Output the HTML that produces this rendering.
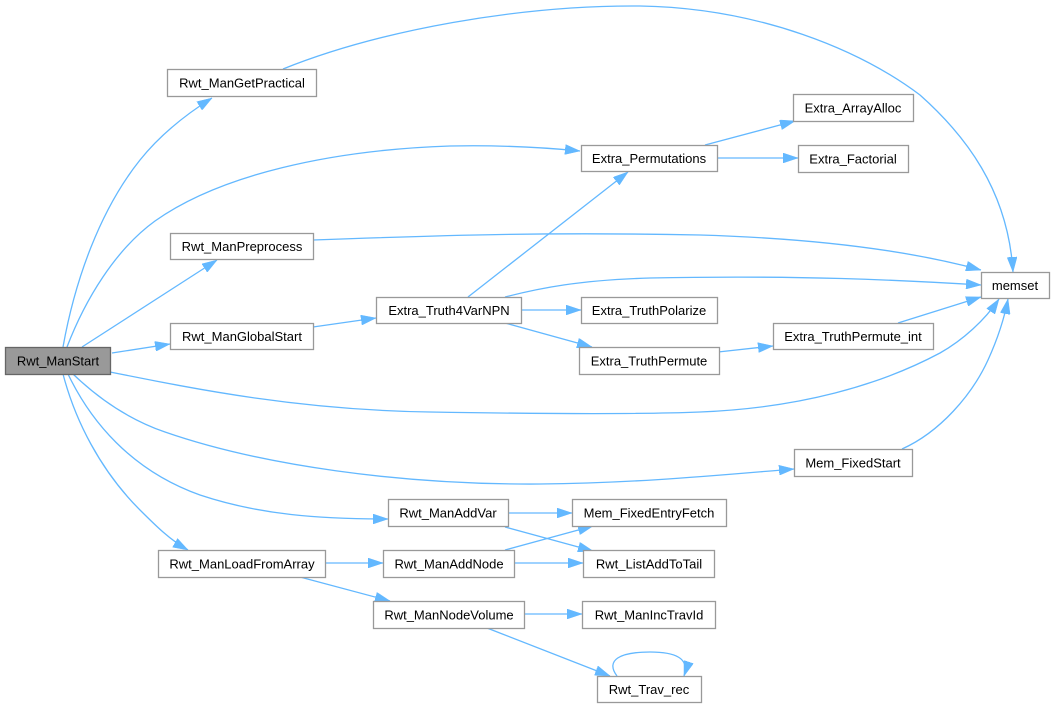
<!DOCTYPE html>
<html>
<head>
<meta charset="utf-8">
<style>
html,body{margin:0;padding:0;background:#fff;}
svg{display:block;}
text{font-family:"Liberation Sans",Arial,sans-serif;font-size:13px;fill:#000;text-anchor:middle;}
.n{fill:#fff;stroke:#999;stroke-width:1.3;}
.m{fill:#999;stroke:#666;stroke-width:1.3;}
.e{fill:none;stroke:#63b8ff;stroke-width:1.3;marker-end:url(#ah);}
</style>
</head>
<body>
<svg width="1055" height="708" viewBox="0 0 1055 708" xmlns="http://www.w3.org/2000/svg">
<defs>
<marker id="ah" viewBox="0 0 15 10" refX="15" refY="5" markerWidth="15" markerHeight="10" markerUnits="userSpaceOnUse" orient="auto">
<path d="M0,0 L15,5 L0,10 z" fill="#63b8ff" stroke="#63b8ff" stroke-width="0.5"/>
</marker>
</defs>

<!-- edges -->
<path class="e" d="M63,347 C75,280 100,210 140,160 C160,135 185,115 212,98"/>
<path class="e" d="M67,347 C85,300 115,250 155,221 C220,175 330,150 450,146 C500,145 540,147 580,151"/>
<path class="e" d="M82,347 L217,260"/>
<path class="e" d="M112,353 L170,344"/>
<path class="e" d="M110,372 C200,390 300,410 430,412 C550,414 650,414 700,412 C800,408 880,385 940,353 C963,340 985,320 999,299"/>
<path class="e" d="M73,374 C100,400 130,420 165,432 C260,465 400,485 540,484 C640,483 720,475 794,469"/>
<path class="e" d="M68,374 C90,420 130,470 200,495 C260,515 320,519 388,519"/>
<path class="e" d="M63,374 C75,420 100,470 140,510 C155,525 170,540 188,550"/>

<path class="e" d="M283,69 C380,30 520,5 640,6 C760,8 860,50 920,95 C965,135 1008,190 1013,272"/>
<path class="e" d="M313,240 C450,235 550,232 700,235 C800,238 900,248 981,270"/>
<path class="e" d="M313,327 L376,318"/>
<path class="e" d="M468,297 L628,172"/>
<path class="e" d="M505,297 C540,288 580,280 650,278 C800,275 900,280 981,285"/>
<path class="e" d="M521,310 L581,310"/>
<path class="e" d="M505,323 L592,347"/>
<path class="e" d="M705,145 L795,121"/>
<path class="e" d="M717,158 L798,158"/>
<path class="e" d="M718,352 L773,346"/>
<path class="e" d="M898,323 L981,297"/>
<path class="e" d="M902,449 C940,432 972,395 988,360 C998,338 1004,320 1008,299"/>

<path class="e" d="M325,563 L383,563"/>
<path class="e" d="M300,577 L390,601"/>
<path class="e" d="M508,513 L572,513"/>
<path class="e" d="M505,527 L593,551"/>
<path class="e" d="M505,550 L593,526"/>
<path class="e" d="M514,563 L583,563"/>
<path class="e" d="M524,614 L582,614"/>
<path class="e" d="M487,628 L610,676"/>
<path class="e" d="M617,676 C605,660 620,652 650,652 C675,652 690,658 684,676"/>

<!-- nodes -->
<rect class="m" x="5.5" y="347.5" width="105" height="27"/>
<text x="58" y="365.5">Rwt_ManStart</text>

<rect class="n" x="167.5" y="69.5" width="149" height="27"/>
<text x="242" y="87.5">Rwt_ManGetPractical</text>

<rect class="n" x="170.5" y="233.5" width="143" height="26"/>
<text x="242" y="251">Rwt_ManPreprocess</text>

<rect class="n" x="170.5" y="323.5" width="143" height="26"/>
<text x="242" y="341">Rwt_ManGlobalStart</text>

<rect class="n" x="581.5" y="145.5" width="136" height="26"/>
<text x="649" y="163">Extra_Permutations</text>

<rect class="n" x="793.5" y="94.5" width="120" height="27"/>
<text x="853" y="112.5">Extra_ArrayAlloc</text>

<rect class="n" x="798.5" y="145.5" width="110" height="27"/>
<text x="853" y="163.5">Extra_Factorial</text>

<rect class="n" x="981.5" y="272.5" width="68" height="26"/>
<text x="1015" y="290">memset</text>

<rect class="n" x="376.5" y="297.5" width="145" height="26"/>
<text x="449" y="315">Extra_Truth4VarNPN</text>

<rect class="n" x="581.5" y="297.5" width="136" height="26"/>
<text x="649" y="315">Extra_TruthPolarize</text>

<rect class="n" x="579.5" y="347.5" width="140" height="27"/>
<text x="649" y="365.5">Extra_TruthPermute</text>

<rect class="n" x="773.5" y="323.5" width="160" height="26"/>
<text x="853" y="341">Extra_TruthPermute_int</text>

<rect class="n" x="794.5" y="449.5" width="118" height="27"/>
<text x="853" y="467.5">Mem_FixedStart</text>

<rect class="n" x="388.5" y="499.5" width="120" height="27"/>
<text x="448" y="517.5">Rwt_ManAddVar</text>

<rect class="n" x="572.5" y="499.5" width="154" height="27"/>
<text x="649" y="517.5">Mem_FixedEntryFetch</text>

<rect class="n" x="158.5" y="550.5" width="167" height="27"/>
<text x="242" y="568.5">Rwt_ManLoadFromArray</text>

<rect class="n" x="383.5" y="550.5" width="131" height="27"/>
<text x="449" y="568.5">Rwt_ManAddNode</text>

<rect class="n" x="583.5" y="550.5" width="131" height="27"/>
<text x="649" y="568.5">Rwt_ListAddToTail</text>

<rect class="n" x="373.5" y="601.5" width="151" height="27"/>
<text x="449" y="619.5">Rwt_ManNodeVolume</text>

<rect class="n" x="582.5" y="601.5" width="133" height="27"/>
<text x="649" y="619.5">Rwt_ManIncTravId</text>

<rect class="n" x="597.5" y="676.5" width="104" height="26"/>
<text x="649" y="694">Rwt_Trav_rec</text>
</svg>
</body>
</html>
